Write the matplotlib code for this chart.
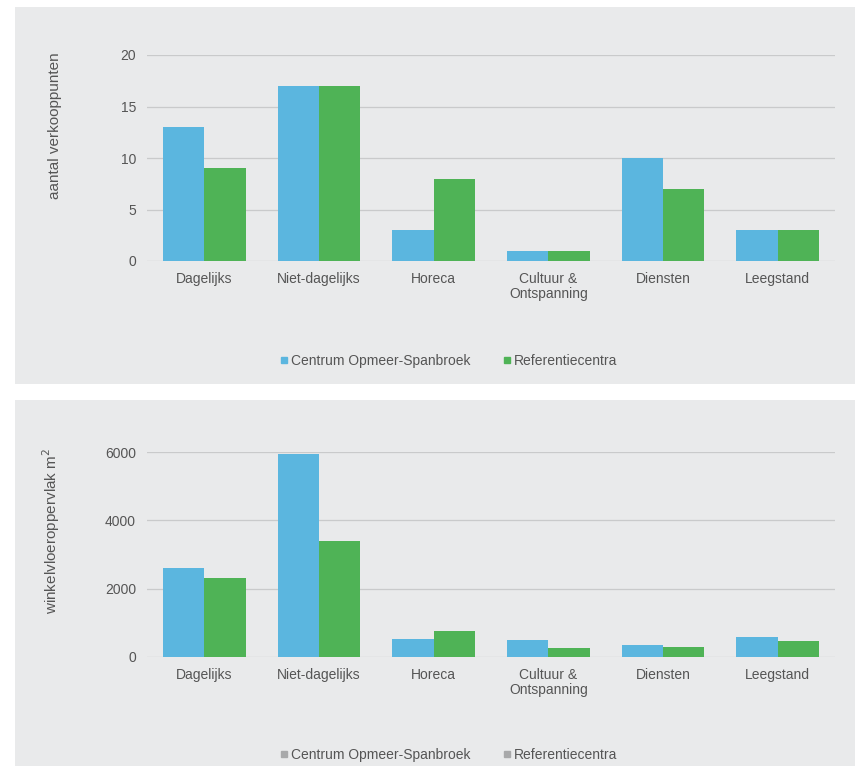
import matplotlib
matplotlib.use("Agg")
import matplotlib.pyplot as plt
import numpy as np
from matplotlib.patches import Rectangle
from matplotlib.lines import Line2D

plt.rcParams['font.family'] = ['Liberation Sans', 'DejaVu Sans']

categories = ["Dagelijks", "Niet-dagelijks", "Horeca", "Cultuur &\nOntspanning", "Diensten", "Leegstand"]
series_names = ["Centrum Opmeer-Spanbroek", "Referentiecentra"]

verkooppunten_centrum = [13, 17, 3, 1, 10, 3]
verkooppunten_referentie = [9, 17, 8, 1, 7, 3]

oppervlak_centrum = [2600, 5950, 530, 500, 360, 590]
oppervlak_referentie = [2300, 3400, 760, 260, 290, 470]

top_ticks = [0, 5, 10, 15, 20]
bottom_ticks = [0, 2000, 4000, 6000]

BLUE = "#5bb6df"
GREEN = "#4fb356"
PANEL = "#e9eaeb"
TEXT = "#555555"
GRID = "#c9cacb"

W, H = 861, 772
fig = plt.figure(figsize=(W / 100, H / 100), dpi=100)
fig.patch.set_facecolor("white")

def px_rect(x0, y0, x1, y1):
    return Rectangle((x0 / W, 1 - y1 / H), (x1 - x0) / W, (y1 - y0) / H,
                     transform=fig.transFigure, facecolor=PANEL, edgecolor="none", zorder=-10)

fig.patches.append(px_rect(15, 7, 855, 384))
fig.patches.append(px_rect(15, 400, 855, 766))

def make_axes(y_zero, y_top):
    left = 147 / W
    width = (835 - 147) / W
    bottom = 1 - y_zero / H
    height = (y_zero - y_top) / H
    ax = fig.add_axes([left, bottom, width, height])
    ax.set_zorder(5)
    return ax

ax1 = make_axes(261, 55)
ax2 = make_axes(657, 452)

x = np.arange(len(categories))
bw = 0.36

def style(ax, a, b, ticks, ylabel, label_y):
    ax.set_facecolor("none")
    ax.bar(x - bw / 2, a, bw, color=BLUE, zorder=3)
    ax.bar(x + bw / 2, b, bw, color=GREEN, zorder=3)
    ax.set_xlim(-0.5, len(categories) - 0.5)
    ax.set_ylim(0, ticks[-1])
    ax.set_yticks(ticks)
    ax.set_yticklabels([str(t) for t in ticks])
    ax.set_xticks(x)
    ax.set_xticklabels(categories, linespacing=1.1)
    for s in ax.spines.values():
        s.set_visible(False)
    ax.tick_params(axis="both", length=0, labelsize=10, colors=TEXT)
    ax.tick_params(axis="y", pad=8)
    ax.tick_params(axis="x", pad=8)
    ax.yaxis.grid(True, color=GRID, linewidth=0.9, zorder=0)
    ax.set_axisbelow(True)
    ax.set_ylabel(ylabel, fontsize=11, color=TEXT, labelpad=0)
    ax.yaxis.set_label_coords(-85 / 688, label_y)

style(ax1, verkooppunten_centrum, verkooppunten_referentie, top_ticks, "aantal verkooppunten", 0.655)
style(ax2, oppervlak_centrum, oppervlak_referentie, bottom_ticks, "winkelvloeroppervlak m$^2$", 0.615)

def legend(y_px, c1, c2):
    handles = [Line2D([], [], linestyle="none", marker="s", markersize=4.5, color=c1),
               Line2D([], [], linestyle="none", marker="s", markersize=4.5, color=c2)]
    fig.legend(handles, series_names, loc="center", bbox_to_anchor=(448 / W, 1 - y_px / H),
               ncol=2, frameon=False, fontsize=10, handletextpad=0.1, columnspacing=2.2,
               handlelength=0.8, labelcolor=TEXT)

legend(361, BLUE, GREEN)
legend(755, "#a8a9aa", "#a8a9aa")

fig.savefig("out.png", dpi=100, facecolor="white")
